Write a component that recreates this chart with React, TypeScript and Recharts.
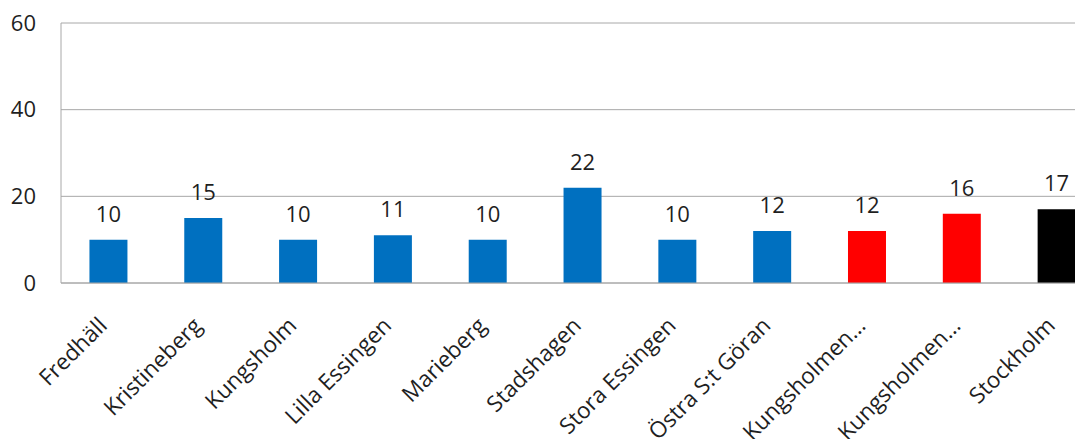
import React from "react";
import { BarChart, Bar, XAxis, YAxis, CartesianGrid, Cell, LabelList } from "recharts";

// area names, as shown on the axis (two are cut off with an ellipsis in the original)
const areas = [
    "Fredhäll",
    "Kristineberg",
    "Kungsholm",
    "Lilla Essingen",
    "Marieberg",
    "Stadshagen",
    "Stora Essingen",
    "Östra S:t Göran",
    "Kungsholmen…",
    "Kungsholmen…",
    "Stockholm",
];
const values = [10, 15, 10, 11, 10, 22, 10, 12, 12, 16, 17];
const barColors = [
    "#0070C0", "#0070C0", "#0070C0", "#0070C0", "#0070C0", "#0070C0",
    "#0070C0", "#0070C0", "#FF0000", "#FF0000", "#000000",
];
const yTicks = [0, 20, 40, 60];

const FONT = "'Open Sans', sans-serif";
const TEXT = "#1f1f1f";

const data = areas.map((name, i) => ({ name, value: values[i] }));

function AreaTick({ x, y, payload }: any) {
    const ax = x;
    const ay = y + 36;
    return (
        <text
            x={ax}
            y={ay}
            transform={`rotate(-45, ${ax}, ${ay})`}
            textAnchor="end"
            fontFamily={FONT}
            fontSize={22.5}
            fill={TEXT}
        >
            {payload.value}
        </text>
    );
}

export default function App() {
    return (
        <div
            style={{
                position: "absolute",
                left: 0,
                top: 0,
                width: 1075,
                height: 439,
                overflow: "hidden",
                background: "#fff",
                fontFamily: FONT,
            }}
        >
            <div style={{ marginTop: -30 }}>
                <BarChart
                    width={1110}
                    height={469}
                    data={data}
                    margin={{ top: 53, right: 6, bottom: 0, left: 0 }}
                    barCategoryGap="30%"
                >
                    {/* title sits mostly above the visible area, as in the reference */}
                    <text
                        x={537}
                        y={26}
                        textAnchor="middle"
                        fontFamily={FONT}
                        fontWeight="bold"
                        fontSize={20}
                        fill={TEXT}
                    >
                        (andel i %)
                    </text>
                    <CartesianGrid vertical={false} stroke="#A8A8A8" />
                    <XAxis
                        dataKey="name"
                        height={156}
                        interval={0}
                        tickLine={false}
                        axisLine={{ stroke: "#A8A8A8" }}
                        tick={<AreaTick />}
                    />
                    <YAxis
                        width={61}
                        domain={[0, 60]}
                        ticks={yTicks}
                        tickLine={false}
                        tickSize={0}
                        tickMargin={25}
                        axisLine={{ stroke: "#A8A8A8" }}
                        tick={{ fontFamily: FONT, fontSize: 22, fill: TEXT }}
                    />
                    <Bar dataKey="value" isAnimationActive={false}>
                        {data.map((_, i) => (
                            <Cell key={i} fill={barColors[i]} />
                        ))}
                        <LabelList
                            dataKey="value"
                            position="top"
                            offset={18}
                            fontFamily={FONT}
                            fontSize={22}
                            fill={TEXT}
                        />
                    </Bar>
                </BarChart>
            </div>
        </div>
    );
}
